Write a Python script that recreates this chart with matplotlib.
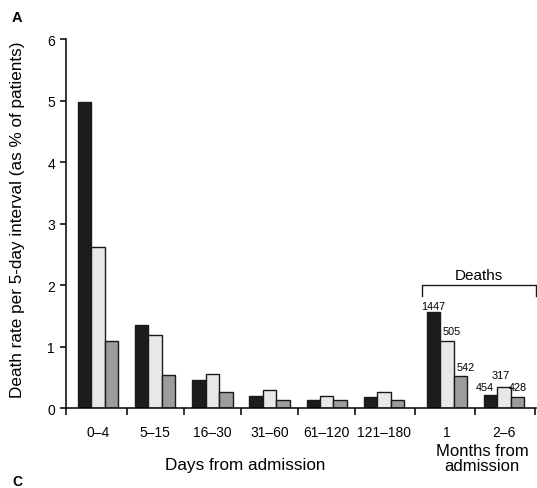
import matplotlib.pyplot as plt

plt.rcParams['font.family'] = ['Liberation Sans', 'DejaVu Sans']

# Data
day_groups = ['0–4', '5–15', '16–30', '31–60', '61–120', '121–180']
month_groups = ['1', '2–6']
black_vals = [4.97, 1.36, 0.46, 0.20, 0.14, 0.19, 1.56, 0.22]
light_vals = [2.62, 1.19, 0.55, 0.29, 0.20, 0.26, 1.10, 0.35]
gray_vals = [1.09, 0.54, 0.26, 0.14, 0.13, 0.13, 0.52, 0.18]
month_deaths = [[1447, 505, 542], [454, 317, 428]]

# label nudges in pixels (dx, dy) for the death counts
label_nudge = [[(0, 1), (5, 5), (5, 4)], [(-6, 3), (-3, 7), (0, 5)]]

W, H = 537, 489
fig = plt.figure(figsize=(W / 100, H / 100), dpi=100)
ax = fig.add_axes([66 / W, (H - 409.3) / H, 470 / W, 369.3 / H])

xpos = [0, 1, 2, 3, 4, 5, 6.1, 7.1]
bw = 0.235
colors = ['#1e1b1c', '#e8e8e8', '#9b9c9e']
series = [black_vals, light_vals, gray_vals]
for k, vals in enumerate(series):
    xs = [x + (k - 1) * bw for x in xpos]
    ax.bar(xs, vals, width=bw, color=colors[k], edgecolor='#1a1a1a', linewidth=1.0)

# counts above month bars
for g in range(2):
    for k in range(3):
        xc = xpos[6 + g] + (k - 1) * bw
        yv = series[k][6 + g]
        dx, dy = label_nudge[g][k]
        ax.annotate(str(month_deaths[g][k]), (xc, yv), xytext=(dx, dy),
                    textcoords='offset pixels', ha='center', va='bottom',
                    fontsize=7.8, annotation_clip=False)

ax.set_xlim(-0.56, 7.66)
ax.set_ylim(0, 6)
ax.set_yticks(range(7))
ax.tick_params(axis='y', direction='out', length=4, width=1.1, pad=4, labelsize=10)

ax.set_xticks([-0.56, 0.5, 1.5, 2.5, 3.5, 4.5, 5.55, 6.6, 7.64])
ax.set_xticklabels([])
ax.set_xticks(xpos, minor=True)
ax.set_xticklabels(day_groups + month_groups, minor=True)
ax.tick_params(axis='x', which='major', direction='out', length=5, width=1.1)
ax.tick_params(axis='x', which='minor', length=0, pad=12, labelsize=10)

for s in ['top', 'right']:
    ax.spines[s].set_visible(False)
for s in ['left', 'bottom']:
    ax.spines[s].set_linewidth(1.1)

# "Deaths" bracket
bx0, bx1, by, bleg = 5.66, 7.66, 2.0, 1.83
ax.plot([bx0, bx0, bx1, bx1], [bleg, by, by, bleg], color='#1a1a1a',
        linewidth=1.0, clip_on=False)
ax.text((bx0 + bx1) / 2, by + 0.06, 'Deaths', ha='center', va='bottom', fontsize=11)

fig.text(18 / W, 1 - 220 / H, 'Death rate per 5-day interval (as % of patients)',
         rotation=90, ha='center', va='center', fontsize=12.3)
fig.text(245 / W, 1 - 466 / H, 'Days from admission', ha='center', va='center', fontsize=12.3)
fig.text(482 / W, 1 - 459 / H, 'Months from\nadmission', ha='center', va='center',
         fontsize=12, linespacing=1.0)
fig.text(12 / W, 1 - 17.5 / H, 'A', ha='left', va='center', fontsize=10.5, fontweight='bold')
fig.text(12 / W, 1 - 482 / H, 'C', ha='left', va='center', fontsize=10, fontweight='bold')

fig.savefig('out.png', dpi=100)
